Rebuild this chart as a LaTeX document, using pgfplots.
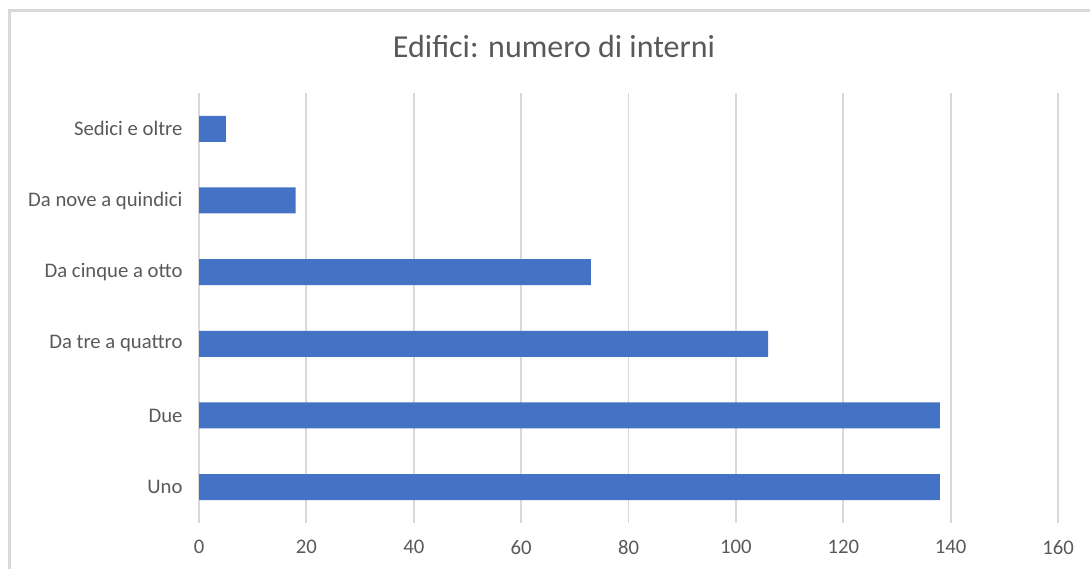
\documentclass[border=0pt]{standalone}
\usepackage{fontspec}
\setmainfont{Carlito}
\usepackage{pgfplots}
\pgfplotsset{compat=1.18}

\definecolor{barblue}{HTML}{4472C4}
\definecolor{gridgray}{HTML}{D9D9D9}
\definecolor{textgray}{HTML}{595959}

\begin{document}
\begin{tikzpicture}
  \useasboundingbox (0pt,0pt) rectangle (1090pt,569pt);
  % chart frame (left and top edges)
  \draw[gridgray, line width=3pt] (9.5pt,0pt) -- (9.5pt,558pt) -- (1090pt,558pt);
  % title
  \node[text=textgray, font=\fontsize{32}{38}\selectfont] at (554pt,522pt) {Edifici: numero di interni};
  \begin{axis}[
    at={(199pt,46pt)}, anchor=south west,
    scale only axis, width=859pt, height=430pt,
    xbar, bar width=26pt,
    xmin=0, xmax=160, ymin=-0.5, ymax=5.5,
    xtick={0,20,...,160},
    ytick={0,1,2,3,4,5},
    yticklabels={Uno,Due,Da tre a quattro,Da cinque a otto,Da nove a quindici,Sedici e oltre},
    xmajorgrids, grid style={gridgray, line width=1.8pt},
    axis line style={draw=none},
    major tick length=0pt,
    /pgf/number format/assume math mode=true,
    tick label style={text=textgray, font=\fontsize{20.7}{24}\selectfont},
    xticklabel style={yshift=-14pt},
    yticklabel style={xshift=-13pt},
  ]
    \addplot[fill=barblue, draw=none] coordinates {
      (138,0) (138,1) (106,2) (73,3) (18,4) (5,5)
    };
  \end{axis}
\end{tikzpicture}
\end{document}
